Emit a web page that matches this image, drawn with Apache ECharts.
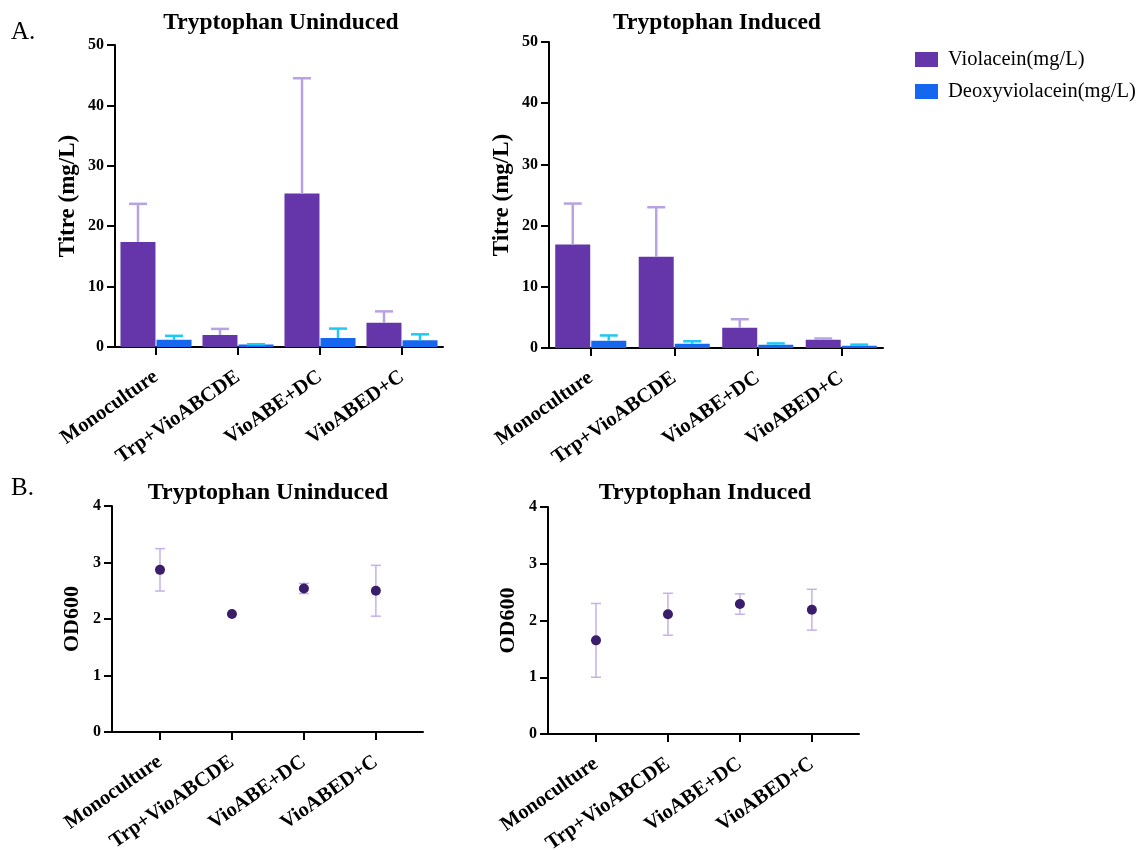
<!DOCTYPE html>
<html>
<head>
<meta charset="utf-8">
<script src="https://cdn.jsdelivr.net/npm/echarts@6/dist/echarts.min.js"></script>
<style>
html,body{margin:0;padding:0;background:#fff;}
#chart{width:1140px;height:850px;}
</style>
</head>
<body>
<div id="chart"></div>
<script>
const categories = ['Monoculture', 'Trp+VioABCDE', 'VioABE+DC', 'VioABED+C'];
const seriesNames = ['Violacein(mg/L)', 'Deoxyviolacein(mg/L)'];
const titles = ['Tryptophan Uninduced', 'Tryptophan Induced'];
const panelLabels = ['A.', 'B.'];

const violaceinUninduced = [17.4, 2.0, 25.4, 4.0];
const violaceinUninducedErr = [6.3, 1.0, 19.1, 1.9];
const deoxyUninduced = [1.2, 0.4, 1.5, 1.1];
const deoxyUninducedErr = [0.65, 0.05, 1.55, 1.0];

const violaceinInduced = [16.9, 14.9, 3.3, 1.35];
const violaceinInducedErr = [6.7, 8.1, 1.4, 0.2];
const deoxyInduced = [1.2, 0.7, 0.55, 0.38];
const deoxyInducedErr = [0.85, 0.4, 0.2, 0.17];

const odUninduced = [2.87, 2.09, 2.54, 2.50];
const odUninducedSD = [0.375, 0, 0.09, 0.45];
const odInduced = [1.65, 2.11, 2.29, 2.19];
const odInducedSD = [0.65, 0.37, 0.18, 0.36];

const titreTicks = {min: 0, max: 50, interval: 10};
const odTicks = {min: 0, max: 4, interval: 1};

const FONT = 'Liberation Serif';
const PURPLE = '#6535aa';
const BLUE = '#1467ee';
const ERR_PURPLE = '#b7a2e2';
const ERR_CYAN = '#1cc9f7';
const DOT = '#3a1d6b';
const ERR_OD = '#c3b2ea';

const chart = echarts.init(document.getElementById('chart'));

function yAxis(gridIndex, ticks, name, gap, nameSize) {
  return {
    type: 'value', gridIndex, min: ticks.min, max: ticks.max, interval: ticks.interval,
    name, nameLocation: 'middle', nameGap: gap,
    nameTextStyle: {fontFamily: FONT, fontWeight: 'bold', fontSize: nameSize, color: '#000'},
    axisLine: {show: true, onZero: false, lineStyle: {color: '#000', width: 2}},
    axisTick: {show: true, length: 8, lineStyle: {color: '#000', width: 2}},
    axisLabel: {fontFamily: FONT, fontWeight: 'bold', fontSize: 16, color: '#000', margin: 11},
    splitLine: {show: false}
  };
}
const xLabelStyle = {fontFamily: FONT, fontWeight: 'bold', fontSize: 20.5, color: '#000', rotate: 35, margin: 28, interval: 0};

function catAxis(gridIndex) {
  return {
    type: 'category', gridIndex, data: categories, boundaryGap: true,
    axisLine: {show: true, onZero: false, lineStyle: {color: '#000', width: 2}},
    axisTick: {show: true, alignWithLabel: true, length: 8, lineStyle: {color: '#000', width: 2}},
    axisLabel: xLabelStyle,
    splitLine: {show: false}
  };
}
function valXAxis(gridIndex) {
  return {
    type: 'value', gridIndex, min: -0.667, max: 3.655,
    axisLine: {show: true, onZero: false, lineStyle: {color: '#000', width: 2}},
    axisTick: {show: true, length: 8, customValues: [0, 1, 2, 3], lineStyle: {color: '#000', width: 2}},
    axisLabel: Object.assign({}, xLabelStyle, {customValues: [0, 1, 2, 3], formatter: v => categories[Math.round(v)]}),
    splitLine: {show: false}
  };
}

function barErr(xi, yi, means, errs, offset, color) {
  return {
    type: 'custom', xAxisIndex: xi, yAxisIndex: yi, z: 5, silent: true,
    data: means.map((m, i) => [i, m, m + errs[i]]),
    renderItem: function (params, api) {
      const b = api.coord([api.value(0), api.value(1)]);
      const t = api.coord([api.value(0), api.value(2)]);
      const x = b[0] + offset;
      const st = {stroke: color, lineWidth: 2.5};
      return {type: 'group', children: [
        {type: 'line', shape: {x1: x, y1: b[1], x2: x, y2: t[1]}, style: st},
        {type: 'line', shape: {x1: x - 9, y1: t[1], x2: x + 9, y2: t[1]}, style: st}
      ]};
    }
  };
}
function odErr(xi, yi, means, sds) {
  return {
    type: 'custom', xAxisIndex: xi, yAxisIndex: yi, z: 1, silent: true,
    data: means.map((m, i) => [i, m - sds[i], m + sds[i]]),
    renderItem: function (params, api) {
      const lo = api.coord([api.value(0), api.value(1)]);
      const hi = api.coord([api.value(0), api.value(2)]);
      const x = lo[0];
      const st = {stroke: ERR_OD, lineWidth: 1.5};
      return {type: 'group', children: [
        {type: 'line', shape: {x1: x, y1: lo[1], x2: x, y2: hi[1]}, style: st},
        {type: 'line', shape: {x1: x - 5, y1: hi[1], x2: x + 5, y2: hi[1]}, style: st},
        {type: 'line', shape: {x1: x - 5, y1: lo[1], x2: x + 5, y2: lo[1]}, style: st}
      ]};
    }
  };
}
function bars(xi, yi, name, data, color) {
  return {
    type: 'bar', name, xAxisIndex: xi, yAxisIndex: yi, data, barWidth: 35, barGap: '3%',
    itemStyle: {color}, z: 2
  };
}
function dots(xi, yi, data) {
  return {
    type: 'scatter', xAxisIndex: xi, yAxisIndex: yi, data: data.map((v, i) => [i, v]),
    symbolSize: 10, itemStyle: {color: DOT, opacity: 1}, z: 3
  };
}
function ctxt(cx, cy, text, size, bold) {
  return {type: 'text', x: cx, y: cy, style: {text, fontFamily: FONT, fontSize: size, fontWeight: bold ? 'bold' : 'normal', fill: '#000', align: 'center', verticalAlign: 'middle'}};
}
function ltxt(x, cy, text, size) {
  return {type: 'text', x: x, y: cy, style: {text, fontFamily: FONT, fontSize: size, fill: '#000', align: 'left', verticalAlign: 'middle'}};
}

const option = {
  backgroundColor: '#fff',
  animation: false,
  grid: [
    {left: 115, top: 45, width: 328, height: 302, outerBoundsMode: 'none', containLabel: false},
    {left: 549, top: 42, width: 334, height: 306, outerBoundsMode: 'none', containLabel: false},
    {left: 112, top: 506, width: 311, height: 226, outerBoundsMode: 'none', containLabel: false},
    {left: 548, top: 507, width: 311, height: 227, outerBoundsMode: 'none', containLabel: false}
  ],
  xAxis: [catAxis(0), catAxis(1), valXAxis(2), valXAxis(3)],
  yAxis: [
    yAxis(0, titreTicks, 'Titre (mg/L)', 35, 23),
    yAxis(1, titreTicks, 'Titre (mg/L)', 35, 23),
    yAxis(2, odTicks, 'OD600', 29, 22),
    yAxis(3, odTicks, 'OD600', 29, 22)
  ],
  legend: {
    show: true, orient: 'vertical', left: 910, top: 44,
    data: seriesNames, icon: 'rect', itemWidth: 23, itemHeight: 15, itemGap: 11,
    textStyle: {fontFamily: FONT, fontSize: 20.5, color: '#000', padding: [0, 0, 0, 5]},
    selectedMode: false
  },
  graphic: [
    ltxt(11, 32, panelLabels[0], 25),
    ltxt(11, 488, panelLabels[1], 25),
    ctxt(281, 23, titles[0], 23.5, true),
    ctxt(717, 23, titles[1], 23.5, true),
    ctxt(268, 493, titles[0], 24, true),
    ctxt(705, 493, titles[1], 24, true)
  ],
  series: [
    bars(0, 0, seriesNames[0], violaceinUninduced, PURPLE),
    bars(0, 0, seriesNames[1], deoxyUninduced, BLUE),
    barErr(0, 0, violaceinUninduced, violaceinUninducedErr, -18, ERR_PURPLE),
    barErr(0, 0, deoxyUninduced, deoxyUninducedErr, 18, ERR_CYAN),
    bars(1, 1, seriesNames[0], violaceinInduced, PURPLE),
    bars(1, 1, seriesNames[1], deoxyInduced, BLUE),
    barErr(1, 1, violaceinInduced, violaceinInducedErr, -18, ERR_PURPLE),
    barErr(1, 1, deoxyInduced, deoxyInducedErr, 18, ERR_CYAN),
    odErr(2, 2, odUninduced, odUninducedSD),
    dots(2, 2, odUninduced),
    odErr(3, 3, odInduced, odInducedSD),
    dots(3, 3, odInduced)
  ]
};
chart.setOption(option);
</script>
</body>
</html>
